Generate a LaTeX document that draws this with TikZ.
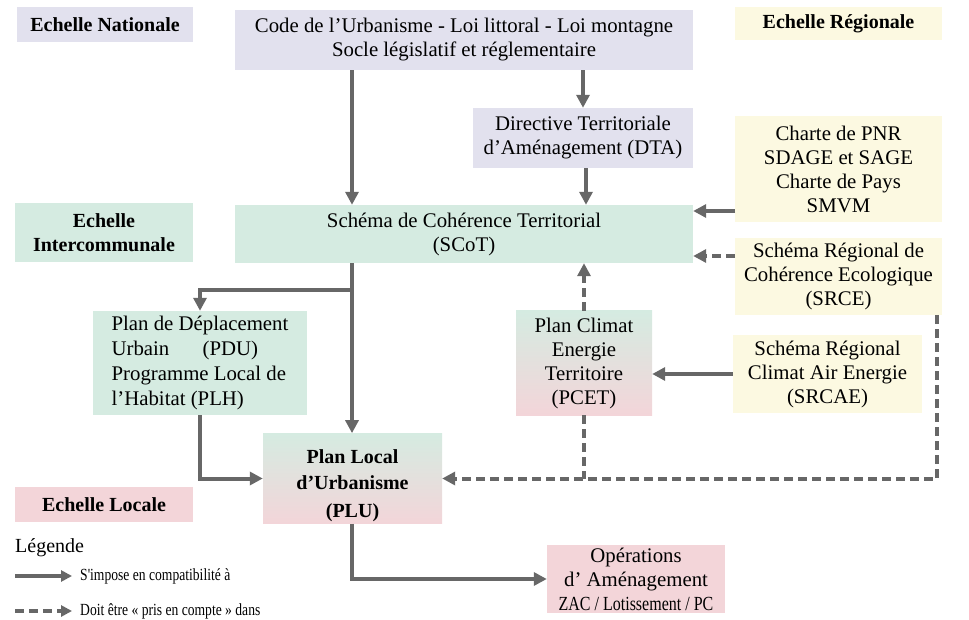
\documentclass[tikz,border=0pt]{standalone}
\usepackage{fontspec}
\setmainfont{Liberation Serif}
\newfontfamily\legendfont{Liberation Serif}[FakeStretch=0.8]
\usetikzlibrary{arrows.meta}
\definecolor{natfill}{HTML}{E2E1EE}
\definecolor{interfill}{HTML}{D5EBE1}
\definecolor{regfill}{HTML}{FCF9E1}
\definecolor{locfill}{HTML}{F3D5D9}
\definecolor{arrgray}{HTML}{676767}
\begin{document}
\begin{tikzpicture}[x=1pt,y=-1pt,
    box/.style={inner sep=2pt,align=center,font=\fontsize{20.8}{24}\selectfont},
    natbox/.style={box,fill=natfill},
    interbox/.style={box,fill=interfill},
    regbox/.style={box,fill=regfill},
    locbox/.style={box,fill=locfill},
    mixbox/.style={box,top color=interfill,bottom color=locfill},
    scalebold/.style={font=\bfseries\fontsize{20}{24}\selectfont},
    imp/.style={draw=arrgray,line width=4pt,-{Triangle[length=13pt,width=13pt]}},
    prise/.style={imp,dash pattern=on 9pt off 5pt},
    legtext/.style={anchor=west,inner sep=0pt,font=\legendfont\fontsize{17}{20}\selectfont}]
    \useasboundingbox (0,0) rectangle (969,620);
    %% scales
    \node[natbox,scalebold,minimum width=176pt,minimum height=35pt] (nat) at (105,24.5) {Echelle Nationale};
    \node[regbox,scalebold,minimum width=207pt,minimum height=33pt] (reg) at (838.5,23.5) {Echelle Régionale};
    \node[interbox,scalebold,minimum width=178pt,minimum height=59pt] (inter) at (104,232.5) {Echelle\\Intercommunale};
    \node[locbox,scalebold,minimum width=178pt,minimum height=35pt] (loc) at (104,504.5) {Echelle Locale};
    %% documents
    \node[natbox,minimum width=458pt,minimum height=60pt] (code) at (464,40) {Code de l'Urbanisme - Loi littoral - Loi montagne\\Socle législatif et réglementaire};
    \node[natbox,minimum width=220pt,minimum height=60pt] (dta) at (583,138) {Directive Territoriale\\d'Aménagement (DTA)};
    \node[regbox,minimum width=207pt,minimum height=106pt] (charte) at (838.5,169) {Charte de PNR\\SDAGE et SAGE\\Charte de Pays\\SMVM};
    \node[interbox,minimum width=458pt,minimum height=58pt] (scot) at (464,234) {Schéma de Cohérence Territorial\\(SCoT)};
    \node[regbox,minimum width=207pt,minimum height=77pt] (srce) at (838.5,276.5) {Schéma Régional de\\Cohérence Ecologique\\(SRCE)};
    \node[interbox,align=left,font=\fontsize{20.8}{25}\selectfont,minimum width=214pt,minimum height=104pt] (pdu) at (200,363) {Plan de Déplacement\\Urbain\hspace{1.6em}(PDU)\\Programme Local de\\l'Habitat (PLH)};
    \node[mixbox,minimum width=136pt,minimum height=104pt] (pcet) at (584,363) {Plan Climat\\Energie\\Territoire\\(PCET)};
    \node[regbox,minimum width=189pt,minimum height=78pt] (srcae) at (827.5,374) {Schéma Régional\\Climat Air Energie\\(SRCAE)};
    \node[mixbox,font=\bfseries\fontsize{20}{26}\selectfont,minimum width=179pt,minimum height=87pt] (plu) at (352.5,478.5) {\rule{0pt}{28pt}Plan Local\\d'Urbanisme\\[2pt](PLU)};
    \node[locbox,minimum width=178pt,minimum height=68pt] (ope) at (636,579) {Opérations\\d' Aménagement\\{\legendfont\fontsize{20}{22}\selectfont ZAC / Lotissement / PC}};
    %% solid links
    \coordinate (split) at (352,290);
    \draw[imp] (code.south -| split) -- (scot.north -| split);
    \draw[imp] (code.south -| dta) -- (dta.north);
    \draw[imp] (dta.south -| 586,0) -- (scot.north -| 586,0);
    \coordinate (chsrc) at (735,211);
    \draw[imp] (chsrc) -- (chsrc -| scot.east);
    \draw[imp] (scot.south -| split) -- (plu.north -| split);
    \draw[imp] (split) -| (pdu.north);
    \draw[imp] (pdu.south) |- (plu.west);
    \draw[imp] (srcae.west) -- (srcae.west -| pcet.east);
    \draw[imp] (plu.south -| split) |- (ope.west);
    %% dashed links
    \coordinate (srsrc) at (735,256);
    \draw[prise] (srsrc) -- (srsrc -| scot.east);
    \draw[prise] (pcet.north) -- (scot.south -| pcet);
    \coordinate (ddrop) at (937,315);
    \draw[prise] (ddrop) |- (plu.east);
    \draw[prise,-] (pcet.south) -- (pcet.south |- plu.east);
    %% legend
    \node[anchor=west,inner sep=0pt,font=\fontsize{20}{24}\selectfont] (leg) at (15,548) {Légende};
    \coordinate (la) at (15,576);
    \coordinate (lb) at (15,611);
    \draw[imp,line width=3.5pt,-{Triangle[length=11pt,width=11pt]}] (la) -- ++(57,0);
    \draw[prise,line width=3.5pt,-{Triangle[length=11pt,width=11pt]}] (lb) -- ++(57,0);
    \node[legtext] (legimp) at (80,576) {S'impose en compatibilité à};
    \node[legtext] (legprise) at (80,611) {Doit être « pris en compte » dans};
\end{tikzpicture}
\end{document}
